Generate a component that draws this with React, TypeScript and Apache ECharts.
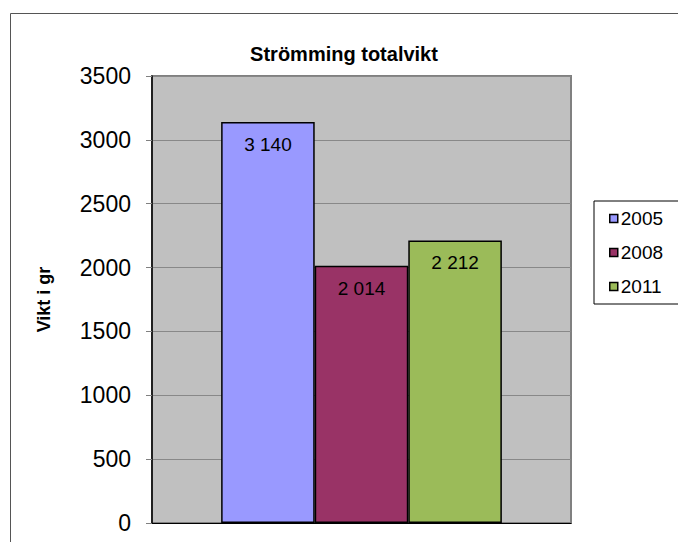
import React, { useEffect, useRef } from "react";
import * as echarts from "echarts";

const categories = [""];
const seriesNames = ["2005", "2008", "2011"];
const values2005 = [3140];
const values2008 = [2014];
const values2011 = [2212];
const seriesColors = ["#9999FF", "#993366", "#9BBB59"];
const yTicks = { min: 0, max: 3500, interval: 500 };

const FONT = "'Liberation Sans', Arial, sans-serif";

function fmt(v: number): string {
  return String(v).replace(/\B(?=(\d{3})+(?!\d))/g, " ");
}

export default function App() {
  const ref = useRef<HTMLDivElement>(null);
  useEffect(() => {
    if (!ref.current) return;
    const chart = echarts.init(ref.current, null, { renderer: "svg" });
    const dataSets = [values2005, values2008, values2011];
    chart.setOption({
      animation: false,
      backgroundColor: "#ffffff",
      textStyle: { fontFamily: FONT },
      title: {
        text: "Strömming totalvikt",
        left: 339,
        textAlign: "center",
        top: 39,
        textStyle: { fontFamily: FONT, fontSize: 20, fontWeight: "bold", color: "#000" },
      },
      legend: {
        orient: "vertical",
        left: 594,
        top: 201,
        padding: [8, 16, 8, 15],
        itemWidth: 8,
        itemHeight: 8,
        itemGap: 15,
        icon: "rect",
        borderColor: "#000",
        borderWidth: 1,
        backgroundColor: "#fff",
        textStyle: { fontFamily: FONT, fontSize: 19, lineHeight: 18, color: "#000", padding: [0, 0, 0, -2] },
        itemStyle: { borderColor: "#000", borderWidth: 1.5 },
        data: seriesNames,
      },
      grid: {
        left: 152,
        right: 107,
        top: 76,
        bottom: 19,
        show: true,
        backgroundColor: "#C0C0C0",
        borderColor: "#808080",
        borderWidth: 2,
      },
      xAxis: {
        type: "category",
        data: categories,
        axisLine: { show: true, lineStyle: { color: "#000", width: 1 } },
        axisTick: { show: false },
        axisLabel: { show: false },
        splitLine: { show: false },
      },
      yAxis: {
        type: "value",
        min: yTicks.min,
        max: yTicks.max,
        interval: yTicks.interval,
        name: "Vikt i gr",
        nameLocation: "middle",
        nameRotate: 90,
        nameGap: 99,
        nameTextStyle: { fontFamily: FONT, fontSize: 18, fontWeight: "bold", color: "#000" },
        axisLine: { show: true, lineStyle: { color: "#000", width: 1.5 } },
        axisTick: { show: true, inside: false, length: 6, lineStyle: { color: "#808080" } },
        axisLabel: { fontFamily: FONT, fontSize: 23, color: "#000", margin: 21, formatter: (v: number) => String(v) },
        splitLine: { show: true, lineStyle: { color: "#888888", width: 1 } },
      },
      series: seriesNames.map((name, i) => ({
        name,
        type: "bar",
        data: dataSets[i],
        barGap: "0%",
        barCategoryGap: "33%",
        itemStyle: { color: seriesColors[i], borderColor: "#000", borderWidth: 1.5 },
        label: {
          show: true,
          position: "insideTop",
          distance: 13,
          fontFamily: FONT,
          fontSize: 19,
          color: "#000",
          formatter: (p: any) => fmt(p.value),
        },
      })),
      graphic: [
        {
          type: "rect",
          shape: { x: 10.5, y: 13.5, width: 800, height: 700 },
          style: { fill: "none", stroke: "#555555", lineWidth: 1 },
          silent: true,
          z: 100,
        },
      ],
    });
    return () => chart.dispose();
  }, []);
  return (
    <div
      ref={ref}
      style={{ position: "absolute", left: 0, top: 0, width: 678, height: 542 }}
    />
  );
}
